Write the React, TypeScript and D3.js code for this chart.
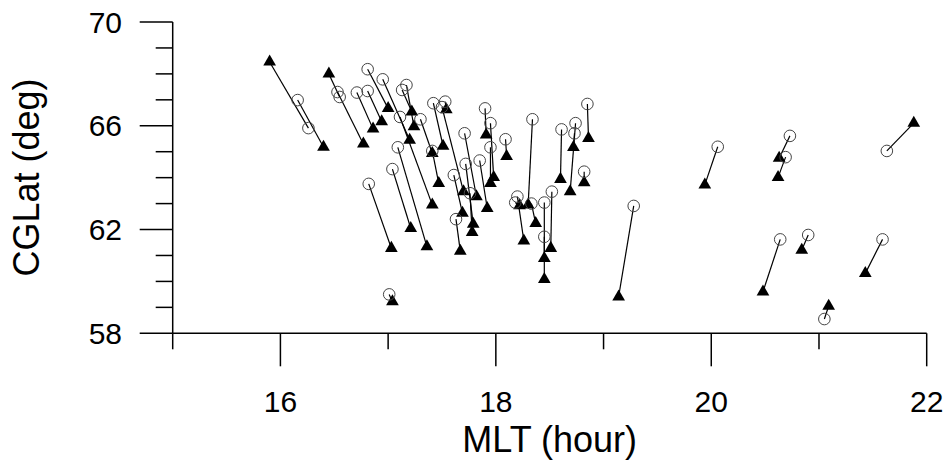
import React, { useRef, useEffect } from "react";
import * as d3 from "d3";

// each index is one pair: filled triangle -> open circle, joined by a line
const triMLT = [
  15.9, 16.4, 16.45, 16.77, 16.86, 16.94, 17.0, 17.2, 17.22, 17.24,
  17.41, 17.41, 17.47, 17.51, 17.54, 17.7, 17.36, 17.21, 17.03, 17.04,
  17.82, 17.69, 17.67, 17.79, 17.78, 17.92, 17.91, 17.98, 17.95, 18.1,
  18.3, 18.26, 18.22, 18.37, 18.45, 18.45, 18.51, 18.6, 18.69, 18.72,
  18.86, 18.82, 19.94, 20.63, 20.62, 21.88, 19.14, 20.48, 20.84, 21.43,
  21.09,
];
const triLat = [
  68.46, 65.18, 68.0, 65.3, 65.88, 66.16, 66.67, 65.45, 66.54, 65.97,
  62.95, 64.94, 63.78, 65.22, 66.62, 63.46, 61.34, 62.05, 61.28, 59.22,
  63.27, 62.63, 61.17, 62.21, 61.89, 62.82, 65.65, 64.01, 63.78, 64.82,
  62.95, 61.56, 62.92, 62.24, 60.89, 60.08, 61.28, 63.94, 63.46, 65.17,
  65.52, 63.81, 63.72, 64.75, 64.01, 66.1, 59.41, 59.6, 61.21, 60.31,
  59.05,
];
const circMLT = [
  16.26, 16.16, 16.55, 16.53, 16.71, 16.81, 16.81, 16.95, 17.13, 17.17,
  17.11, 17.3, 17.41, 17.42, 17.53, 17.5, 17.09, 17.04, 16.82, 17.01,
  17.71, 17.61, 17.63, 17.72, 17.76, 17.85, 17.9, 17.95, 17.95, 18.09,
  18.34, 18.2, 18.18, 18.33, 18.45, 18.45, 18.52, 18.61, 18.74, 18.73,
  18.85, 18.82, 20.06, 20.73, 20.69, 21.63, 19.28, 20.64, 20.9, 21.59,
  21.05,
];
const circLat = [
  65.91, 66.99, 67.11, 67.3, 67.28, 67.34, 68.18, 67.79, 67.38, 67.57,
  66.34, 66.25, 65.03, 66.87, 66.93, 66.72, 65.17, 64.33, 63.76, 59.5,
  65.71, 64.1, 62.4, 64.53, 63.4, 64.66, 66.67, 66.1, 65.17, 65.48,
  66.25, 63.27, 63.04, 63.0, 63.04, 61.72, 63.46, 65.86, 66.1, 65.71,
  66.84, 64.23, 65.19, 65.61, 64.79, 65.03, 62.91, 61.62, 61.79, 61.62,
  58.55,
];

const xMajor = [16, 18, 20, 22];
const xMinor = [15, 17, 19, 21];
const yMajor = [58, 62, 66, 70];
const yMinor = [59, 60, 61, 63, 64, 65, 67, 68, 69];

const Chart = () => {
  const svgRef = useRef();

  useEffect(() => {
    document.body.style.margin = "0";
    const width = 945;
    const height = 461;

    const x = d3.scaleLinear().domain([15, 22]).range([172.7, 926.7]);
    const y = d3.scaleLinear().domain([58, 70]).range([333.3, 22]);

    const svg = d3.select(svgRef.current);
    svg.selectAll("*").remove();
    svg
      .attr("width", width)
      .attr("height", height)
      .style("display", "block")
      .style("font-family", "'Liberation Sans', Arial, sans-serif");

    const font = 30;

    // axes
    const ax = svg.append("g").attr("stroke", "#000").attr("stroke-width", 1.5);
    ax.append("line")
      .attr("x1", x(15)).attr("x2", x(15))
      .attr("y1", y(70)).attr("y2", y(58));
    ax.append("line")
      .attr("x1", x(15)).attr("x2", x(22))
      .attr("y1", y(58)).attr("y2", y(58));

    ax.selectAll(".ymaj").data(yMajor).join("line")
      .attr("x1", x(15) - 33).attr("x2", x(15))
      .attr("y1", (d) => y(d)).attr("y2", (d) => y(d));
    ax.selectAll(".ymin").data(yMinor).join("line")
      .attr("class", "ymin")
      .attr("x1", x(15) - 17).attr("x2", x(15))
      .attr("y1", (d) => y(d)).attr("y2", (d) => y(d));
    ax.selectAll(".xmaj").data(xMajor).join("line")
      .attr("class", "xmaj")
      .attr("x1", (d) => x(d)).attr("x2", (d) => x(d))
      .attr("y1", y(58)).attr("y2", y(58) + 33);
    ax.selectAll(".xmin").data(xMinor).join("line")
      .attr("class", "xmin")
      .attr("x1", (d) => x(d)).attr("x2", (d) => x(d))
      .attr("y1", y(58)).attr("y2", y(58) + 16);

    svg.append("g").selectAll("text").data(yMajor).join("text")
      .attr("x", 122)
      .attr("y", (d) => y(d) + 10.5)
      .attr("text-anchor", "end")
      .attr("font-size", font)
      .text((d) => d);

    svg.append("g").selectAll("text").data(xMajor).join("text")
      .attr("x", (d) => x(d))
      .attr("y", 411.5)
      .attr("text-anchor", "middle")
      .attr("font-size", font)
      .text((d) => d);

    svg.append("text")
      .attr("x", (x(15) + x(22)) / 2)
      .attr("y", 451.5)
      .attr("text-anchor", "middle")
      .attr("font-size", 36)
      .text("MLT (hour)");

    svg.append("text")
      .attr("transform", "translate(39,177.5) rotate(-90)")
      .attr("text-anchor", "middle")
      .attr("font-size", 36)
      .text("CGLat (deg)");

    // pairs
    const idx = d3.range(triMLT.length);
    svg.append("g").selectAll("line").data(idx).join("line")
      .attr("x1", (i) => x(triMLT[i]))
      .attr("y1", (i) => y(triLat[i]))
      .attr("x2", (i) => x(circMLT[i]))
      .attr("y2", (i) => y(circLat[i]))
      .attr("stroke", "#000")
      .attr("stroke-width", 1.2);

    const tri = d3.symbol().type(d3.symbolTriangle).size(70);
    svg.append("g").selectAll("path").data(idx).join("path")
      .attr("d", tri)
      .attr("transform", (i) => `translate(${x(triMLT[i])},${y(triLat[i])})`)
      .attr("fill", "#000");

    svg.append("g").selectAll("circle").data(idx).join("circle")
      .attr("cx", (i) => x(circMLT[i]))
      .attr("cy", (i) => y(circLat[i]))
      .attr("r", 5.8)
      .attr("fill", "none")
      .attr("stroke", "#444")
      .attr("stroke-width", 1);
  }, []);

  return <svg ref={svgRef}></svg>;
};

export default function App() {
  return <Chart />;
}
